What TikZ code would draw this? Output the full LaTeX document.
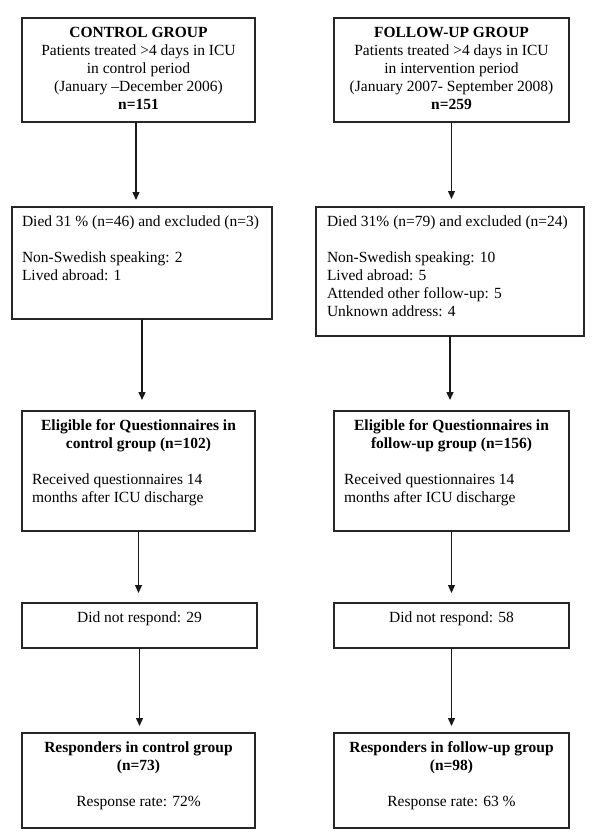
\documentclass[tikz,border=0pt]{standalone}
\usepackage{fontspec}
\setmainfont{Liberation Serif}
\usetikzlibrary{arrows.meta}
\newcommand{\bxt}[3]{\parbox[c][#2pt][t]{#1pt}{\fontsize{15.5}{18}\selectfont #3}}
\newcommand{\ctr}{\centering\leftskip=-30pt plus 1fil\rightskip=-30pt plus 1fil\relax}
\newcommand{\lft}{\raggedright\leftskip=10pt\rightskip=-30pt plus 1fil\relax}
\newcommand{\fst}{\rule{0pt}{19pt}}
\tikzset{
  flowbox/.style={draw=black!85, line width=1.3pt, inner sep=0pt, outer sep=0pt, anchor=north west},
  arr/.style={draw=black!90, line width=1.3pt, -{Triangle[length=8pt,width=7pt]}}
}
\begin{document}
\begin{tikzpicture}[x=1pt,y=1pt]
\useasboundingbox (0,0) rectangle (600,-838);
% left column
\node[flowbox] (L1) at (22,-18) {\bxt{233}{104}{\ctr\fst\textbf{CONTROL GROUP}\\ Patients treated >4 days in ICU\\ in control period\\ (January --December 2006)\\ \textbf{n=151}\par}};
\node[flowbox] (L2) at (12,-207) {\bxt{260}{112}{\lft\fst Died 31 \% (n=46) and excluded (n=3)\\[18pt] Non-Swedish speaking: 2\\ Lived abroad: 1\par}};
\node[flowbox] (L3) at (22,-411) {\bxt{233}{120}{{\ctr\bfseries\fst Eligible for Questionnaires in\\ control group (n=102)\par}\vspace{18pt}{\lft Received questionnaires 14\\ months after ICU discharge\par}}};
\node[flowbox] (L4) at (22,-603) {\bxt{235}{45}{\ctr\fst Did not respond: 29\par}};
\node[flowbox] (L5) at (22,-733) {\bxt{233}{95}{\ctr\fst{\bfseries Responders in control group\\ (n=73)}\\[18pt] Response rate: 72\%\par}};
% right column
\node[flowbox] (R1) at (334,-18) {\bxt{235}{104}{\ctr\fst\textbf{FOLLOW-UP GROUP}\\ Patients treated >4 days in ICU\\ in intervention period\\ (January 2007- September 2008)\\ \textbf{n=259}\par}};
\node[flowbox] (R2) at (316,-207) {\bxt{268}{129}{\raggedright\leftskip=11pt\rightskip=-30pt plus 1fil\relax\fst Died 31\% (n=79) and excluded (n=24)\\[18pt] Non-Swedish speaking: 10\\ Lived abroad: 5\\ Attended other follow-up: 5\\ Unknown address: 4\par}};
\node[flowbox] (R3) at (334,-411) {\bxt{235}{120}{{\ctr\bfseries\fst Eligible for Questionnaires in\\ follow-up group (n=156)\par}\vspace{18pt}{\lft Received questionnaires 14\\ months after ICU discharge\par}}};
\node[flowbox] (R4) at (334,-603) {\bxt{235}{45}{\ctr\fst Did not respond: 58\par}};
\node[flowbox] (R5) at (334,-733) {\bxt{235}{95}{\ctr\fst{\bfseries Responders in follow-up group\\ (n=98)}\\[18pt] Response rate: 63 \%\par}};
% arrows
\draw[arr, shorten >=7pt] ([xshift=-2.5pt]L1.south) -- ([xshift=-2.5pt]L1.south |- L2.north);
\draw[arr, shorten >=11pt] (L2.south) -- (L2.south |- L3.north);
\draw[arr, shorten >=10pt] (L3.south) -- (L3.south |- L4.north);
\draw[arr, shorten >=7pt] (L4.south) -- (L4.south |- L5.north);
\draw[arr, shorten >=8pt] (R1.south) -- (R1.south |- R2.north);
\draw[arr, shorten >=11pt] (R2.south) -- (R2.south |- R3.north);
\draw[arr, shorten >=10pt] (R3.south) -- (R3.south |- R4.north);
\draw[arr, shorten >=7pt] (R4.south) -- (R4.south |- R5.north);
\end{tikzpicture}
\end{document}
